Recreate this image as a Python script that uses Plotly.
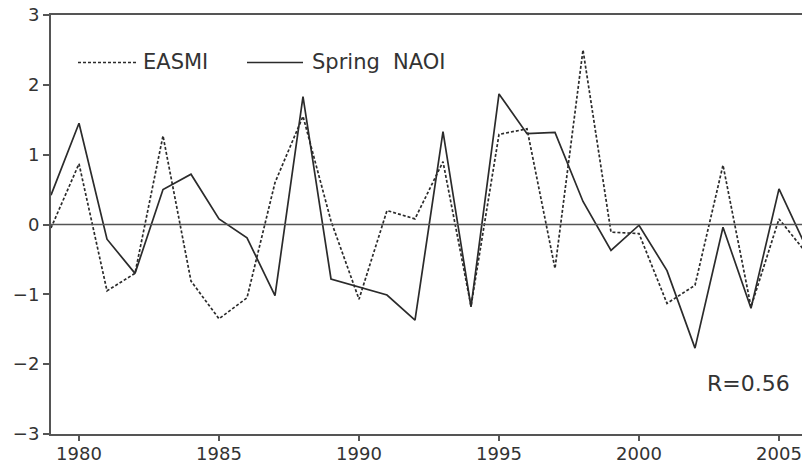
import plotly.graph_objects as go

years = list(range(1979, 2007))
easmi = [-0.05, 0.87, -0.95, -0.70, 1.27, -0.81, -1.35, -1.05, 0.60, 1.55,
         0.05, -1.07, 0.20, 0.08, 0.90, -1.17, 1.29, 1.37, -0.63, 2.50,
         -0.11, -0.13, -1.13, -0.87, 0.85, -1.18, 0.08, -0.42]
naoi = [0.42, 1.45, -0.21, -0.70, 0.50, 0.72, 0.08, -0.19, -1.02, 1.83,
        -0.78, -0.90, -1.01, -1.37, 1.33, -1.18, 1.87, 1.30, 1.32, 0.33,
        -0.37, -0.01, -0.66, -1.77, -0.04, -1.20, 0.51, -0.35]
xticks = [1980, 1985, 1990, 1995, 2000, 2005]
yticks = [-3, -2, -1, 0, 1, 2, 3]

W, H = 802, 463
L, R, T, B = 51, 0, 15, 29
px_per_year = 28.0
xmax = 1979 + (W - L - R) / px_per_year

line_col = "#2b2b2b"
axis_col = "#555555"
font = "DejaVu Sans"

fig = go.Figure()
fig.add_trace(go.Scatter(x=years, y=easmi, mode="lines", name="EASMI",
                         line=dict(color=line_col, width=1.7, dash="3px,2px")))
fig.add_trace(go.Scatter(x=years, y=naoi, mode="lines", name="Spring NAOI",
                         line=dict(color=line_col, width=1.7)))

fig.add_hline(y=0, line=dict(color=axis_col, width=1.5))

def px2paper_x(px):
    return (px - L) / (W - L - R)

def py2paper_y(py):
    return (H - B - py) / (H - T - B)

# manual legend
ly = py2paper_y(62.5)
fig.add_shape(type="line", xref="paper", yref="paper",
              x0=px2paper_x(78), x1=px2paper_x(136), y0=ly, y1=ly,
              line=dict(color=line_col, width=1.4, dash="3px,2px"))
fig.add_annotation(xref="paper", yref="paper", x=px2paper_x(141), y=ly,
                   text="EASMI", showarrow=False, xanchor="left", yanchor="middle",
                   font=dict(family=font, size=21, color="#333333"))
fig.add_shape(type="line", xref="paper", yref="paper",
              x0=px2paper_x(247), x1=px2paper_x(303), y0=ly, y1=ly,
              line=dict(color=line_col, width=1.6))
fig.add_annotation(xref="paper", yref="paper", x=px2paper_x(310), y=ly,
                   text="Spring&nbsp;&nbsp;NAOI", showarrow=False, xanchor="left", yanchor="middle",
                   font=dict(family=font, size=21, color="#333333"))
fig.add_annotation(xref="paper", yref="paper", x=px2paper_x(792), y=py2paper_y(383),
                   text="R=0.56", showarrow=False, xanchor="right", yanchor="middle",
                   font=dict(family=font, size=22, color="#333333"))

fig.update_layout(
    width=W, height=H,
    margin=dict(l=L, r=R, t=T, b=B, pad=0),
    paper_bgcolor="white", plot_bgcolor="white",
    showlegend=False,
    xaxis=dict(range=[1979, xmax], tickvals=xticks, ticktext=[str(v) for v in xticks],
               automargin=False,
               showgrid=False, zeroline=False, showline=True, mirror=True,
               linecolor=axis_col, linewidth=2, ticks="outside", ticklen=5,
               tickwidth=1.5, tickcolor=axis_col, ticklabelstandoff=-3,
               tickfont=dict(family=font, size=18, color="#333333")),
    yaxis=dict(range=[-3, 3], tickvals=yticks, automargin=False,
               ticktext=["\u22123", "\u22122", "\u22121", "0", "1", "2", "3"],
               showgrid=False, zeroline=False, showline=True, mirror=False,
               linecolor=axis_col, linewidth=2, ticks="outside", ticklen=6,
               tickwidth=1.5, tickcolor=axis_col,
               tickfont=dict(family=font, size=18, color="#333333")),
)

fig.write_html("out.html", config={"displayModeBar": False},
               post_script="document.body.style.margin='0';document.body.style.overflow='hidden';")
